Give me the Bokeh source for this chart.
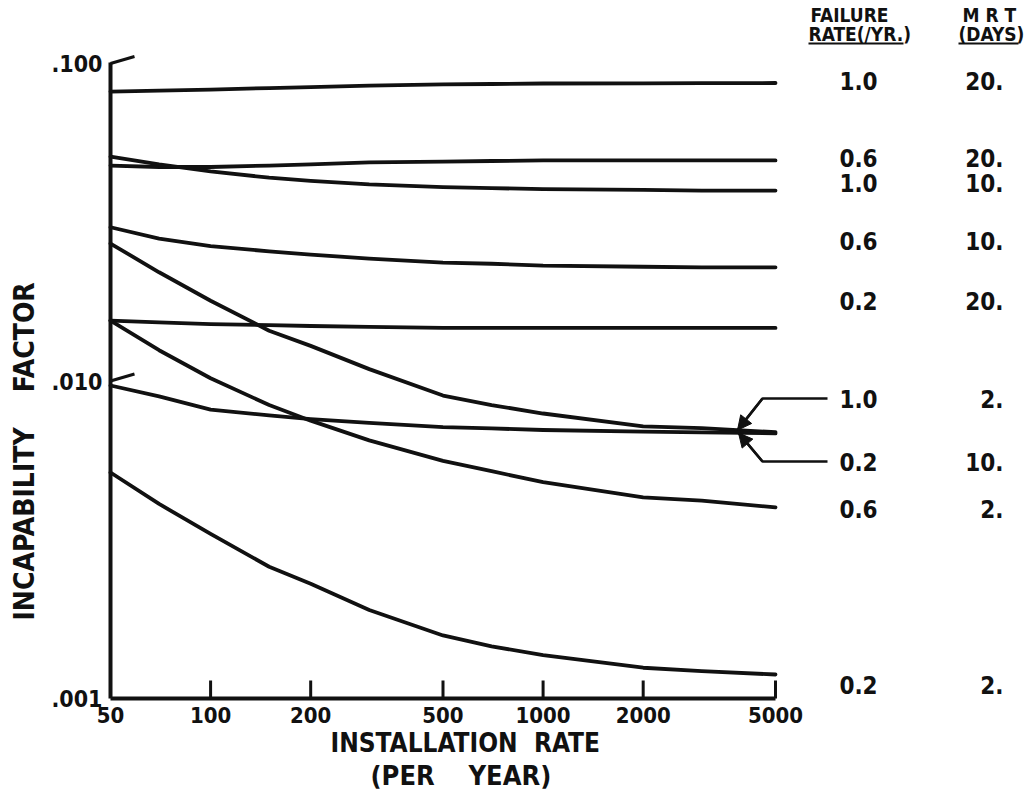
import numpy as np
from bokeh.plotting import figure
from bokeh.models import Range1d, FixedTicker, Title, Arrow, NormalHead
from bokeh.core.properties import value
from bokeh.embed import file_html
from bokeh.resources import INLINE

# Installation rate sample points (per year)
install_rate = [50, 70, 100, 150, 200, 300, 500, 700, 1000, 2000, 3000, 5000]

# Incapability factor for each failure rate (/yr) and mean repair time (days)
inc_fr10_mrt20 = [0.0816, 0.0822, 0.0828, 0.0837, 0.0843, 0.0852, 0.0859, 0.0862, 0.0865, 0.0866, 0.0867, 0.0868]
inc_fr06_mrt20 = [0.0477, 0.0472, 0.0472, 0.0477, 0.0481, 0.0488, 0.0491, 0.0493, 0.0495, 0.0495, 0.0495, 0.0495]
inc_fr10_mrt10 = [0.0509, 0.0481, 0.0457, 0.0437, 0.0427, 0.0416, 0.0408, 0.0405, 0.0402, 0.0400, 0.0398, 0.0398]
inc_fr06_mrt10 = [0.0305, 0.0281, 0.0266, 0.0256, 0.0250, 0.0243, 0.0236, 0.0234, 0.0231, 0.0229, 0.0228, 0.0228]
inc_fr02_mrt20 = [0.0155, 0.0153, 0.0151, 0.0150, 0.0149, 0.0148, 0.0147, 0.0147, 0.0147, 0.0147, 0.0147, 0.0147]
inc_fr10_mrt02 = [0.0271, 0.0220, 0.0179, 0.0144, 0.0129, 0.0109, 0.0090, 0.0084, 0.0079, 0.0072, 0.0071, 0.0069]
inc_fr02_mrt10 = [0.00968, 0.00894, 0.00813, 0.00779, 0.00759, 0.00738, 0.00716, 0.00709, 0.00701, 0.00693, 0.00689, 0.00684]
inc_fr06_mrt02 = [0.0155, 0.0125, 0.0102, 0.0084, 0.0075, 0.0065, 0.0056, 0.0052, 0.0048, 0.0043, 0.0042, 0.0040]
inc_fr02_mrt02 = [0.00515, 0.0041, 0.0033, 0.0026, 0.0023, 0.0019, 0.00158, 0.00146, 0.00137, 0.00125, 0.00122, 0.00119]

failure_rates = ["1.0", "0.6", "1.0", "0.6", "0.2", "1.0", "0.2", "0.6", "0.2"]
repair_times = ["20.", "20.", "10.", "10.", "20.", "2.", "10.", "2.", "2."]
curves = [inc_fr10_mrt20, inc_fr06_mrt20, inc_fr10_mrt10, inc_fr06_mrt10, inc_fr02_mrt20,
          inc_fr10_mrt02, inc_fr02_mrt10, inc_fr06_mrt02, inc_fr02_mrt02]

x_ticks = [50, 100, 200, 500, 1000, 2000, 5000]
x_tick_labels = ["50", "100", "200", "500", "1000", "2000", "5000"]
y_ticks = [0.001, 0.01, 0.1]
y_tick_labels = [".001", ".010", ".100"]

NB = "\u00a0"
y_title = "INCAPABILITY" + NB * 4 + "FACTOR"
x_title = "INSTALLATION" + NB * 2 + "RATE"
x_subtitle = "(PER" + NB * 4 + "YEAR)"

# ---- page geometry (pixels, origin top-left) ----
W, H = 1027, 800
FRAME_LEFT = 104
FRAME_BOTTOM = 704
AX_X = 110          # pixel column of the 50/yr axis
AX_Y = 698          # pixel row of the .001 axis
DEC_X = 332.5       # pixels per decade, horizontal
DEC_Y = 317.5       # pixels per decade, vertical
X_MIN, X_MAX = x_ticks[0], x_ticks[-1]
Y_MIN, Y_MAX = y_ticks[0], y_ticks[-1]


def xd(px):
    return X_MIN * 10 ** ((px - AX_X) / DEC_X)


def yd(py):
    return Y_MIN * 10 ** ((AX_Y - py) / DEC_Y)


def curve_at(xv, ys):
    return 10 ** np.interp(np.log10(xv), np.log10(install_rate), np.log10(ys))


FONT = "DejaVu Sans Condensed"
INK = "#111111"

p = figure(width=W, height=H, x_axis_type="log", y_axis_type="log",
           x_range=Range1d(xd(FRAME_LEFT), xd(W)),
           y_range=Range1d(yd(FRAME_BOTTOM), yd(0)),
           output_backend="svg", toolbar_location=None,
           min_border_left=FRAME_LEFT, min_border_right=0,
           min_border_top=0, min_border_bottom=H - FRAME_BOTTOM)
p.grid.visible = False
p.outline_line_color = None
p.background_fill_color = "white"
p.border_fill_color = "white"

for ax in (p.xaxis, p.yaxis):
    ax.axis_line_color = None
    ax.major_tick_line_color = None
    ax.minor_tick_line_color = None
    ax.major_tick_in = 0
    ax.major_tick_out = 0
    ax.minor_tick_in = 0
    ax.minor_tick_out = 0
    ax.major_label_text_font = FONT
    ax.major_label_text_font_style = "bold"
    ax.major_label_text_color = INK
    ax.major_label_text_font_size = "22px"

p.xaxis.ticker = FixedTicker(ticks=x_ticks)
p.xaxis.major_label_overrides = dict(zip(x_ticks, x_tick_labels))
p.xaxis.major_label_standoff = 2
p.yaxis.ticker = FixedTicker(ticks=y_ticks)
p.yaxis.major_label_overrides = dict(zip(y_ticks, y_tick_labels))
p.yaxis.major_label_standoff = 2
p.yaxis.major_label_text_font_size = "23px"

# axis lines
p.line([X_MIN, X_MIN], [Y_MIN, Y_MAX * 10 ** (1 / DEC_Y)], line_width=4, line_color=INK)
p.line([X_MIN, X_MAX], [Y_MIN, Y_MIN], line_width=4, line_color=INK)

# upward tick marks on the installation-rate axis
tx = x_ticks[1:]
p.segment(x0=tx, y0=[Y_MIN] * len(tx), x1=tx, y1=[yd(AX_Y - 18)] * len(tx),
          line_width=3, line_color=INK)

# slanted tick marks on the incapability axis
ty = y_ticks[1:]
p.segment(x0=[X_MIN] * len(ty), y0=ty, x1=[xd(AX_X + 24)] * len(ty),
          y1=[t * 10 ** (7 / DEC_Y) for t in ty], line_width=3, line_color=INK)

# curves
for ys in curves:
    p.line(install_rate, ys, line_width=3.8, line_color=INK, line_join="round", line_cap="round")

# right-hand table of parameters
row_py = [80, 157, 182, 240, 300, 398, 461, 508, 684]
p.text(x=[xd(858)] * len(row_py), y=[yd(v) for v in row_py], text=failure_rates,
       text_align="center", text_baseline="middle", text_font=value(FONT),
       text_font_style="bold", text_font_size="24px", text_color=INK)
p.text(x=[xd(1003)] * len(row_py), y=[yd(v) for v in row_py], text=repair_times,
       text_align="right", text_baseline="middle", text_font=value(FONT),
       text_font_style="bold", text_font_size="24px", text_color=INK)

p.text(x=[xd(810), xd(808), xd(962), xd(958)], y=[yd(14), yd(33), yd(14), yd(33)],
       text=["FAILURE", "RATE(/YR.)", "M R T", "(DAYS)"],
       text_align="left", text_baseline="middle", text_font=value(FONT),
       text_font_style="bold", text_font_size="19px", text_color=INK)
p.segment(x0=[xd(808), xd(958)], y0=[yd(43), yd(43)], x1=[xd(903), xd(1018)], y1=[yd(43), yd(43)],
          line_width=2, line_color=INK)

# leaders from the two close rows to their curves
for ys, py_row, tip_px in ((inc_fr10_mrt02, 398, 737), (inc_fr02_mrt10, 461, 738)):
    tip_x = xd(tip_px)
    tip_y = float(curve_at(tip_x, ys))
    elbow_x, elbow_y = xd(762), yd(py_row)
    p.line([xd(827), elbow_x, tip_x], [elbow_y, elbow_y, tip_y], line_width=2.5, line_color=INK)
    p.add_layout(Arrow(end=NormalHead(size=14, fill_color=INK, line_color=INK),
                       x_start=elbow_x, y_start=elbow_y, x_end=tip_x, y_end=tip_y,
                       line_width=2.5, line_color=INK))

# axis titles, placed in the side panels next to the axes
title_style = dict(text_font=FONT, text_font_style="bold", text_color=INK, standoff=0)
p.add_layout(Title(text=" ", text_font_size="6px", standoff=0), "left")
p.add_layout(Title(text=y_title, align="left", offset=84,
                   text_font_size="28px", **title_style), "left")
p.add_layout(Title(text=x_title, align="left", offset=226,
                   text_font_size="26px", **title_style), "below")
p.add_layout(Title(text=x_subtitle, align="left", offset=266,
                   text_font_size="27px", **title_style), "below")

open("out.html", "w").write(file_html(p, INLINE))
